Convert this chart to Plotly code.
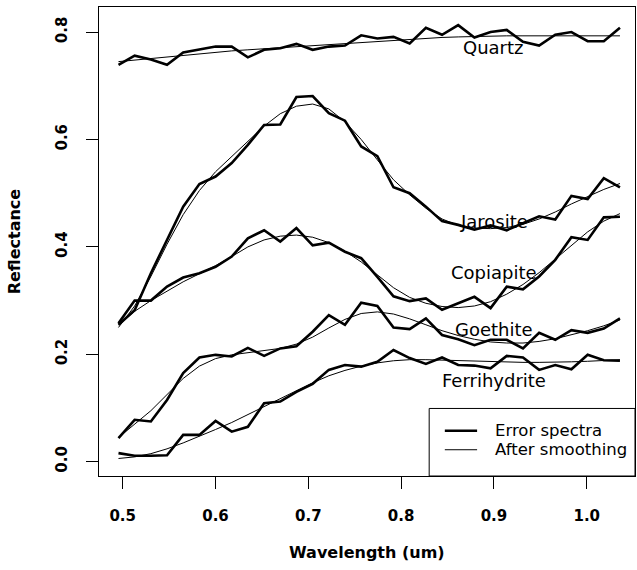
import plotly.graph_objects as go

# Wavelength (um)
wavelength = [0.4955, 0.5129, 0.5304, 0.5478, 0.5652, 0.5827, 0.6001, 0.6175,
              0.6349, 0.6524, 0.6698, 0.6872, 0.7047, 0.7221, 0.7395, 0.7570,
              0.7744, 0.7918, 0.8092, 0.8267, 0.8441, 0.8615, 0.8790, 0.8964,
              0.9138, 0.9313, 0.9487, 0.9661, 0.9835, 1.0010, 1.0184, 1.0358]

# Error spectra (thick lines)
quartz_err = [0.739, 0.756, 0.749, 0.739, 0.762, 0.768, 0.773, 0.773, 0.753, 0.767,
              0.770, 0.778, 0.767, 0.773, 0.775, 0.794, 0.788, 0.791, 0.779, 0.808,
              0.795, 0.813, 0.790, 0.800, 0.804, 0.782, 0.775, 0.795, 0.800, 0.783,
              0.783, 0.808]
jarosite_err = [0.255, 0.282, 0.351, 0.413, 0.475, 0.517, 0.531, 0.556, 0.590, 0.627,
                0.628, 0.679, 0.681, 0.649, 0.635, 0.587, 0.569, 0.511, 0.500, 0.475,
                0.448, 0.441, 0.432, 0.440, 0.431, 0.444, 0.457, 0.451, 0.495, 0.489,
                0.528, 0.511]
copiapite_err = [0.258, 0.300, 0.300, 0.326, 0.343, 0.351, 0.363, 0.382, 0.416, 0.431,
                 0.410, 0.435, 0.403, 0.408, 0.391, 0.379, 0.344, 0.308, 0.299, 0.304,
                 0.283, 0.295, 0.307, 0.286, 0.326, 0.321, 0.345, 0.376, 0.418, 0.413,
                 0.455, 0.456]
goethite_err = [0.044, 0.078, 0.075, 0.115, 0.165, 0.194, 0.199, 0.196, 0.212, 0.197,
                0.211, 0.215, 0.242, 0.273, 0.255, 0.296, 0.290, 0.250, 0.247, 0.267,
                0.236, 0.228, 0.217, 0.227, 0.227, 0.211, 0.240, 0.227, 0.245, 0.240,
                0.248, 0.267]
ferrihydrite_err = [0.016, 0.011, 0.011, 0.012, 0.050, 0.050, 0.076, 0.056, 0.065, 0.109,
                    0.112, 0.130, 0.145, 0.171, 0.180, 0.177, 0.186, 0.208, 0.193, 0.182,
                    0.194, 0.180, 0.179, 0.174, 0.197, 0.194, 0.171, 0.180, 0.172, 0.199,
                    0.189, 0.188]

# After smoothing (thin lines)
quartz_smooth = [0.745, 0.748, 0.751, 0.754, 0.757, 0.760, 0.763, 0.765, 0.767, 0.769,
                 0.771, 0.773, 0.775, 0.777, 0.779, 0.781, 0.783, 0.785, 0.787, 0.789,
                 0.790, 0.791, 0.792, 0.793, 0.793, 0.793, 0.793, 0.793, 0.793, 0.793,
                 0.793, 0.793]
jarosite_smooth = [0.250, 0.290, 0.345, 0.405, 0.460, 0.505, 0.540, 0.568, 0.597, 0.625,
                   0.648, 0.662, 0.666, 0.657, 0.633, 0.600, 0.562, 0.525, 0.497, 0.472,
                   0.452, 0.440, 0.435, 0.434, 0.436, 0.442, 0.452, 0.465, 0.480, 0.494,
                   0.507, 0.518]
copiapite_smooth = [0.255, 0.280, 0.300, 0.318, 0.335, 0.350, 0.365, 0.382, 0.400, 0.413,
                    0.420, 0.422, 0.418, 0.408, 0.392, 0.372, 0.348, 0.324, 0.306, 0.295,
                    0.289, 0.287, 0.290, 0.298, 0.312, 0.330, 0.352, 0.377, 0.403, 0.428,
                    0.448, 0.462]
goethite_smooth = [0.045, 0.070, 0.095, 0.125, 0.155, 0.178, 0.192, 0.199, 0.203, 0.206,
                   0.211, 0.219, 0.232, 0.249, 0.265, 0.276, 0.279, 0.275, 0.266, 0.255,
                   0.244, 0.235, 0.228, 0.223, 0.221, 0.221, 0.224, 0.229, 0.236, 0.244,
                   0.253, 0.264]
ferrihydrite_smooth = [0.006, 0.009, 0.015, 0.024, 0.035, 0.047, 0.060, 0.073, 0.088, 0.103,
                       0.118, 0.133, 0.147, 0.160, 0.170, 0.178, 0.184, 0.188, 0.190, 0.190,
                       0.189, 0.188, 0.187, 0.186, 0.185, 0.185, 0.185, 0.185, 0.186, 0.187,
                       0.188, 0.190]

minerals = ["Quartz", "Jarosite", "Copiapite", "Goethite", "Ferrihydrite"]
label_y = [0.772, 0.448, 0.352, 0.247, 0.152]
label_x = 0.9

x_ticks = [0.5, 0.6, 0.7, 0.8, 0.9, 1.0]
x_ticktext = ["0.5", "0.6", "0.7", "0.8", "0.9", "1.0"]
y_ticks = [0.0, 0.2, 0.4, 0.6, 0.8]
y_ticktext = ["0.0", "0.2", "0.4", "0.6", "0.8"]

legend_labels = ["Error spectra", "After smoothing"]

err_series = [quartz_err, jarosite_err, copiapite_err, goethite_err, ferrihydrite_err]
smooth_series = [quartz_smooth, jarosite_smooth, copiapite_smooth, goethite_smooth,
                 ferrihydrite_smooth]

FONT = "DejaVu Sans"

fig = go.Figure()
for name, ys in zip(minerals, err_series):
    fig.add_trace(go.Scatter(x=wavelength, y=ys, mode="lines", name=name,
                             line=dict(color="black", width=2.6),
                             showlegend=False, hoverinfo="skip"))
for name, ys in zip(minerals, smooth_series):
    fig.add_trace(go.Scatter(x=wavelength, y=ys, mode="lines", name=name + " smoothed",
                             line=dict(color="black", width=1),
                             showlegend=False, hoverinfo="skip"))

annotations = []
for name, yv in zip(minerals, label_y):
    annotations.append(dict(x=label_x, y=yv, xref="x", yref="y", text=name,
                            showarrow=False, xanchor="center", yanchor="middle",
                            font=dict(family=FONT, size=18, color="black")))

# axis titles
annotations.append(dict(x=0.5, y=-0.164, xref="paper", yref="paper",
                        text="<b>Wavelength (um)</b>", showarrow=False,
                        xanchor="center", yanchor="middle",
                        font=dict(family=FONT, size=16, color="black")))
annotations.append(dict(x=-0.157, y=0.5, xref="paper", yref="paper",
                        text="<b>Reflectance</b>", showarrow=False, textangle=-90,
                        xanchor="center", yanchor="middle",
                        font=dict(family=FONT, size=16, color="black")))

# legend (bottom-right box)
lg_left, lg_top = 0.616, 0.144
sample_x0, sample_x1 = 0.6452, 0.7054
text_x = 0.7344
row_y = [0.0966, 0.0560]
row_w = [2.6, 1]
shapes = [dict(type="rect", xref="paper", yref="paper", x0=lg_left, x1=1.0,
               y0=0.0, y1=lg_top, line=dict(color="black", width=1),
               fillcolor="white", layer="above")]
for lbl, yy, ww in zip(legend_labels, row_y, row_w):
    shapes.append(dict(type="line", xref="paper", yref="paper", x0=sample_x0,
                       x1=sample_x1, y0=yy, y1=yy,
                       line=dict(color="black", width=ww), layer="above"))
    annotations.append(dict(x=text_x, y=yy, xref="paper", yref="paper", text=lbl,
                            showarrow=False, xanchor="left", yanchor="middle",
                            font=dict(family=FONT, size=16.5, color="black")))

fig.update_layout(
    width=637, height=570,
    margin=dict(l=99, r=2, t=7, b=94),
    paper_bgcolor="white", plot_bgcolor="white",
    showlegend=False,
    annotations=annotations, shapes=shapes,
    font=dict(family=FONT, color="black"),
)
fig.update_xaxes(range=[0.4745, 1.0520], tickvals=x_ticks, ticktext=x_ticktext,
                 ticks="outside", ticklen=12, tickwidth=1, tickcolor="black",
                 showline=True, linecolor="black", linewidth=1, mirror=True,
                 showgrid=False, zeroline=False, ticklabelstandoff=14,
                 tickfont=dict(family=FONT, size=15, color="black", weight="bold"))
fig.update_yaxes(range=[-0.0266, 0.8467], tickvals=y_ticks, ticktext=y_ticktext,
                 ticks="outside", ticklen=12, tickwidth=1, tickcolor="black",
                 showline=True, linecolor="black", linewidth=1, mirror=True,
                 showgrid=False, zeroline=False, tickangle=-90, ticklabelstandoff=13,
                 tickfont=dict(family=FONT, size=15, color="black", weight="bold"))

fig.write_html("out.html")
